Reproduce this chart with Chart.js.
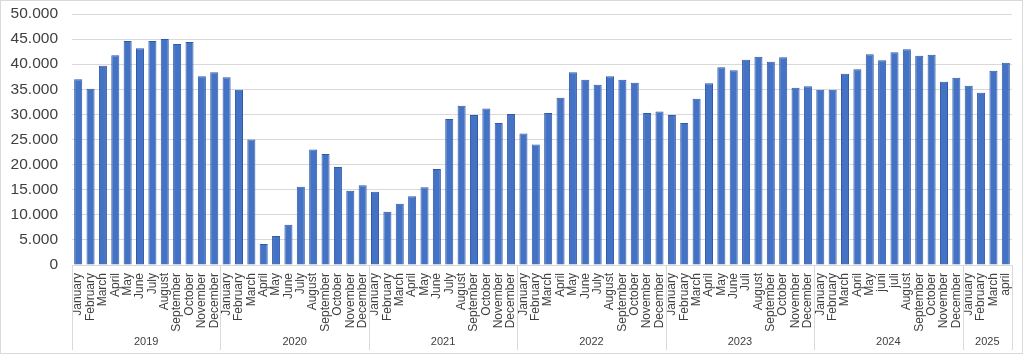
<!DOCTYPE html>
<html>
<head>
<meta charset="utf-8">
<script src="https://cdn.jsdelivr.net/npm/chart.js@4/dist/chart.umd.min.js"></script>
<style>
  html, body { margin: 0; padding: 0; background: #fff; }
  #wrap { width: 1024px; height: 355px; position: relative; }
</style>
</head>
<body>
<div id="wrap"><canvas id="c"></canvas></div>
<script>
const monthLabels = [
  'January','February','March','April','May','June','July','August','September','October','November','December',
  'January','February','March','April','May','June','July','August','September','October','November','December',
  'January','February','March','April','May','June','July','August','September','October','November','December',
  'January','February','March','April','May','June','July','August','September','October','November','December',
  'January','February','March','April','May','June','Juli','August','September','October','November','December',
  'January','February','March','April','May','juni','juli','August','September','October','November','December',
  'January','February','March','april'
];
const years = ['2019','2020','2021','2022','2023','2024','2025'];
const monthsPerYear = [12,12,12,12,12,12,4];
const values = [
  37000, 35100, 39700, 41800, 44600, 43200, 44600, 45000, 44000, 44400, 37600, 38400,
  37400, 34900, 25000, 4200, 5800, 8000, 15600, 23000, 22100, 19500, 14800, 15900,
  14600, 10600, 12200, 13700, 15500, 19100, 29100, 31700, 29900, 31200, 28300, 30100,
  26200, 24000, 30300, 33300, 38400, 36900, 35900, 37600, 36900, 36300, 30300, 30600,
  29900, 28300, 33100, 36200, 39400, 38800, 40900, 41500, 40500, 41400, 35300, 35600,
  34900, 34900, 38100, 39000, 42000, 40800, 42400, 43000, 41700, 41900, 36500, 37300,
  35700, 34300, 38700, 40300
];
const yTicks = { min: 0, max: 50000, step: 5000 };

const fmt = v => String(v).replace(/\B(?=(\d{3})+(?!\d))/g, '.');

const groupPlugin = {
  id: 'groups',
  beforeDraw(chart) {
    const ctx = chart.ctx;
    ctx.save();
    ctx.fillStyle = '#ffffff';
    ctx.fillRect(0, 0, chart.width, chart.height);
    ctx.strokeStyle = '#d9d9d9';
    ctx.lineWidth = 1;
    ctx.strokeRect(0.5, 0.5, chart.width - 2, chart.height - 2);
    ctx.restore();
  },
  afterDraw(chart) {
    const ctx = chart.ctx;
    const x = chart.scales.x;
    const area = chart.chartArea;
    const half = (x.getPixelForValue(1) - x.getPixelForValue(0)) / 2;
    ctx.save();
    ctx.strokeStyle = '#d9d9d9';
    ctx.lineWidth = 1;
    ctx.fillStyle = '#404040';
    ctx.font = '11px "Liberation Sans", Arial, sans-serif';
    ctx.textAlign = 'center';
    ctx.textBaseline = 'middle';
    let idx = 0;
    const yTop = area.bottom;
    const yBot = 350;
    for (let g = 0; g < years.length; g++) {
      const start = x.getPixelForValue(idx) - half;
      const end = x.getPixelForValue(idx + monthsPerYear[g] - 1) + half;
      const sx = Math.round(start) + 0.5;
      ctx.beginPath(); ctx.moveTo(sx, yTop); ctx.lineTo(sx, yBot); ctx.stroke();
      if (g === years.length - 1) {
        const ex = Math.round(end) + 0.5;
        ctx.beginPath(); ctx.moveTo(ex, yTop); ctx.lineTo(ex, yBot); ctx.stroke();
      }
      ctx.fillText(years[g], (start + end) / 2, 342);
      idx += monthsPerYear[g];
    }
    ctx.restore();
  }
};

new Chart(document.getElementById('c'), {
  type: 'bar',
  data: {
    labels: monthLabels,
    datasets: [{
      data: values,
      backgroundColor: '#4472C4',
      borderColor: '#2F5AA8',
      borderWidth: 1,
      barPercentage: 0.65,
      categoryPercentage: 1.0
    }]
  },
  options: {
    responsive: true,
    maintainAspectRatio: false,
    animation: false,
    layout: { padding: { top: 14, right: 12, left: 0, bottom: 0 } },
    plugins: { legend: { display: false }, tooltip: { enabled: false } },
    scales: {
      x: {
        grid: { display: false, drawTicks: false },
        border: { display: true, color: '#d9d9d9' },
        ticks: {
          autoSkip: false,
          minRotation: 90,
          maxRotation: 90,
          padding: 8,
          color: '#404040',
          font: { family: '"Liberation Sans", Arial, sans-serif', size: 12 }
        },
        afterFit(scale) { scale.height = 90; scale.paddingLeft = 0; scale.paddingRight = 0; }
      },
      y: {
        min: yTicks.min,
        max: yTicks.max,
        grid: { color: '#d9d9d9', drawTicks: false },
        border: { display: false },
        ticks: {
          stepSize: yTicks.step,
          padding: 14,
          color: '#404040',
          font: { family: '"Liberation Sans", Arial, sans-serif', size: 15.5 },
          callback: v => fmt(v)
        },
        afterFit(scale) { scale.width = 72; scale.paddingTop = 0; scale.paddingBottom = 0; }
      }
    }
  },
  plugins: [groupPlugin]
});
</script>
</body>
</html>
